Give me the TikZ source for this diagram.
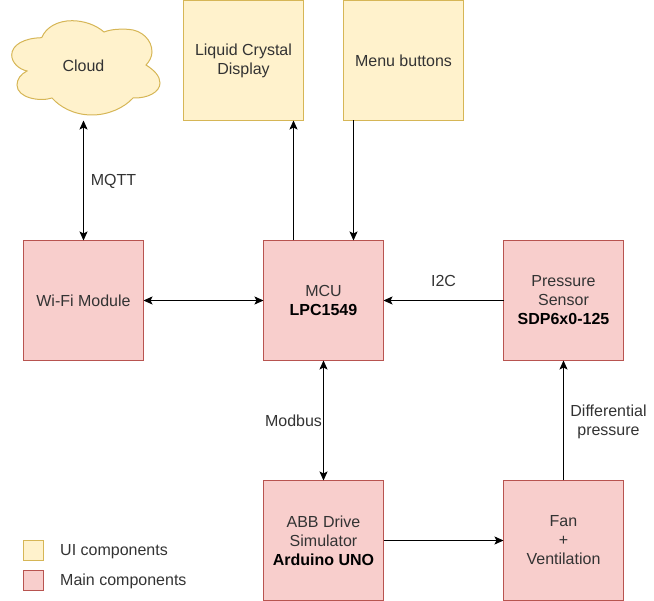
\documentclass[tikz,border=0pt]{standalone}
\usepackage{fontspec}
\setmainfont{Liberation Sans}
\usepackage{xcolor}
\usetikzlibrary{positioning}
\usetikzlibrary{calc}
\usetikzlibrary{arrows.meta}
\definecolor{uifill}{HTML}{FFF2CC}
\definecolor{uidraw}{HTML}{D6B656}
\definecolor{mainfill}{HTML}{F8CECC}
\definecolor{maindraw}{HTML}{B85450}
\definecolor{txt}{HTML}{333333}
\tikzset{
  uibox/.style={draw=uidraw,fill=uifill,line width=1pt,minimum size=120pt,outer sep=0pt,inner sep=2pt,align=center,text=txt},
  mainbox/.style={draw=maindraw,fill=mainfill,line width=1pt,minimum size=120pt,outer sep=0pt,inner sep=2pt,align=center,text=txt},
  keybox/.style={minimum size=20pt,inner sep=0pt},
  conn/.style={line width=1pt,-{Stealth[length=9pt,width=8pt,inset=2pt]}},
  bconn/.style={line width=1pt,{Stealth[length=9pt,width=8pt,inset=2pt]}-{Stealth[length=9pt,width=8pt,inset=2pt]}},
  lbl/.style={align=center,text=txt,inner sep=0pt}
}
\newcommand{\chipname}[1]{{\color{black}\bfseries #1}}
\begin{document}
\begin{tikzpicture}[x=1pt,y=-1pt,font=\fontsize{16}{19}\selectfont]
\useasboundingbox (0,0) rectangle (654,601);

% cloud
\draw [draw=uidraw,fill=uifill,line width=1pt] (41.7,37.7)
  .. controls (46,27) and (58,20.7) .. (72,20.7)
  .. controls (84,20.7) and (96,25) .. (104,32)
  .. controls (112,29) and (120,29) .. (128,29.3)
  .. controls (142,30) and (152,40) .. (152,52)
  .. controls (152,57) and (149,62) .. (146,65)
  .. controls (154,70) and (160,76) .. (160,83)
  .. controls (160,92) and (148,98.5) .. (133,98)
  .. controls (124,108) and (108,115) .. (92,115)
  .. controls (74,115) and (60,107) .. (52,98)
  .. controls (40,102) and (17,98) .. (17,85)
  .. controls (17,79) and (21,74) .. (27,71)
  .. controls (18,69) and (11.7,62) .. (11.7,55)
  .. controls (11.7,45) and (24,38) .. (41.7,37.7);
\node [lbl] (cloud) at (83.5,66) {Cloud};
\coordinate (cloudout) at (83.5,120.5);

% boxes
\node [uibox] (lcd) at (243.5,60.5) {Liquid Crystal\\Display};
\node [uibox] (menu) at (403.5,60.5) {Menu buttons};
\node [mainbox] (wifi) at (83.5,300.5) {Wi-Fi Module};
\node [mainbox] (mcu) at (323.5,300.5) {MCU\\\chipname{LPC1549}};
\node [mainbox] (sensor) at (563.5,300.5) {Pressure\\Sensor\\\chipname{SDP6x0-125}};
\node [mainbox] (abb) at (323.5,540.5) {ABB Drive\\Simulator\\\chipname{Arduino UNO}};
\node [mainbox] (fan) at (563.5,540.5) {Fan\\+\\Ventilation};

% legend
\node [uibox,keybox] (keyui) at (33.5,550.5) {};
\node [mainbox,keybox] (keymain) at (33.5,580.5) {};
\node [lbl,anchor=west] (uitext) at (60,551.5) {UI components};
\node [lbl,anchor=west] (maintext) at (60,581.5) {Main components};

% connectors
\draw [bconn] (cloudout) -- (wifi.north);
\draw [bconn] (wifi.east) -- (mcu.west);
\draw [bconn] (mcu.south) -- (abb.north);
\draw [conn] (sensor.west) -- (mcu.east);
\draw [conn] (abb.east) -- (fan.west);
\draw [conn] (fan.north) -- (sensor.south);
\coordinate (lcdfoot) at (293.5,120.5);
\coordinate (mculeft) at (293.5,240.5);
\coordinate (menufoot) at (353.5,120.5);
\coordinate (mcuright) at (353.5,240.5);
\draw [conn] (mculeft) -- (lcdfoot);
\draw [conn] (menufoot) -- (mcuright);

% connector labels
\node [lbl] (mqtt) at (113.5,181.5) {MQTT};
\node [lbl] (modbus) at (293.5,420.5) {Modbus};
\node [lbl] (itwoc) at (443.5,280.5) {I2C};
\node [lbl] (diff) at (608.5,421.5) {Differential\\pressure};
\end{tikzpicture}
\end{document}
